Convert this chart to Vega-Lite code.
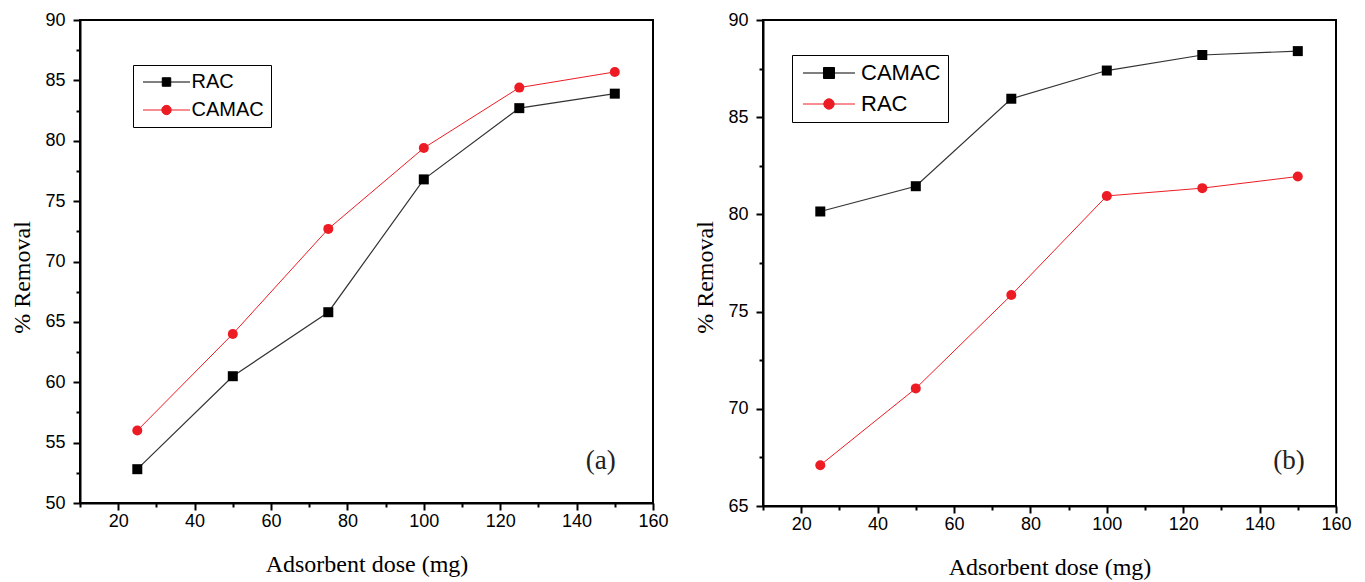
{
  "$schema": "https://vega.github.io/schema/vega-lite/v6.json",
  "background": "white",
  "padding": {"left": 9, "top": 10, "right": 5, "bottom": 5},
  "spacing": 22,
  "config": {
    "view": {"stroke": "black", "strokeWidth": 2},
    "axis": {
      "grid": false,
      "domainColor": "black",
      "domainWidth": 2,
      "tickColor": "black",
      "tickWidth": 2,
      "labelFont": "Liberation Sans",
      "labelFontSize": 18,
      "labelColor": "black",
      "labelOverlap": false,
      "labelFlush": false,
      "titleFont": "Liberation Serif",
      "titleFontSize": 24,
      "titleFontWeight": "normal",
      "titleColor": "black"
    },
    "legend": {
      "title": null,
      "orient": "none",
      "strokeColor": "black",
      "fillColor": "white",
      "labelFont": "Liberation Sans",
      "labelColor": "black",
      "symbolStrokeWidth": 1,
      "symbolOpacity": 1,
      "cornerRadius": 0
    }
  },
  "datasets": {
    "a": [
      {"dose": 25, "removal": 52.8, "sample": "RAC"},
      {"dose": 50, "removal": 60.5, "sample": "RAC"},
      {"dose": 75, "removal": 65.8, "sample": "RAC"},
      {"dose": 100, "removal": 76.8, "sample": "RAC"},
      {"dose": 125, "removal": 82.7, "sample": "RAC"},
      {"dose": 150, "removal": 83.9, "sample": "RAC"},
      {"dose": 25, "removal": 56.0, "sample": "CAMAC"},
      {"dose": 50, "removal": 64.0, "sample": "CAMAC"},
      {"dose": 75, "removal": 72.7, "sample": "CAMAC"},
      {"dose": 100, "removal": 79.4, "sample": "CAMAC"},
      {"dose": 125, "removal": 84.4, "sample": "CAMAC"},
      {"dose": 150, "removal": 85.7, "sample": "CAMAC"}
    ],
    "b": [
      {"dose": 25, "removal": 80.15, "sample": "CAMAC"},
      {"dose": 50, "removal": 81.45, "sample": "CAMAC"},
      {"dose": 75, "removal": 85.95, "sample": "CAMAC"},
      {"dose": 100, "removal": 87.4, "sample": "CAMAC"},
      {"dose": 125, "removal": 88.2, "sample": "CAMAC"},
      {"dose": 150, "removal": 88.4, "sample": "CAMAC"},
      {"dose": 25, "removal": 67.1, "sample": "RAC"},
      {"dose": 50, "removal": 71.05, "sample": "RAC"},
      {"dose": 75, "removal": 75.85, "sample": "RAC"},
      {"dose": 100, "removal": 80.95, "sample": "RAC"},
      {"dose": 125, "removal": 81.35, "sample": "RAC"},
      {"dose": 150, "removal": 81.95, "sample": "RAC"}
    ],
    "labA": [{"dose": 146.3, "removal": 53.5, "text": "(a)"}],
    "labB": [{"dose": 147.7, "removal": 67.3, "text": "(b)"}]
  },
  "hconcat": [
    {
      "width": 573,
      "height": 483,
      "data": {"name": "a"},
      "encoding": {
        "x": {
          "field": "dose", "type": "quantitative",
          "scale": {"domain": [10, 160], "nice": false, "zero": false},
          "axis": {
            "title": "Adsorbent dose (mg)",
            "values": [10, 20, 30, 40, 50, 60, 70, 80, 90, 100, 110, 120, 130, 140, 150, 160],
            "format": "d",
            "labelExpr": "datum.value % 20 === 0 ? datum.label : ''",
            "tickSize": {"condition": {"test": "datum.value % 20 === 0", "value": 7}, "value": 4},
            "labelPadding": 2,
            "titlePadding": 22
          }
        },
        "y": {
          "field": "removal", "type": "quantitative",
          "scale": {"domain": [50, 90], "nice": false, "zero": false},
          "axis": {
            "title": "% Removal",
            "values": [50, 52.5, 55, 57.5, 60, 62.5, 65, 67.5, 70, 72.5, 75, 77.5, 80, 82.5, 85, 87.5, 90],
            "format": "d",
            "labelExpr": "datum.value % 5 === 0 ? datum.label : ''",
            "tickSize": {"condition": {"test": "datum.value % 5 === 0", "value": 7}, "value": 4},
            "labelPadding": 8,
            "titlePadding": 10,
            "titleY": 257
          }
        }
      },
      "layer": [
        {
          "transform": [{"filter": "datum.sample === 'RAC'"}],
          "mark": {"type": "line", "color": "#333333", "strokeWidth": 1.2,
                   "point": {"shape": "square", "size": 100, "filled": true, "color": "black", "opacity": 1}}
        },
        {
          "transform": [{"filter": "datum.sample === 'CAMAC'"}],
          "mark": {"type": "line", "color": "#ed1c24", "strokeWidth": 1,
                   "point": {"shape": "circle", "size": 100, "filled": true, "color": "#ed1c24", "opacity": 1}}
        },
        {
          "data": {"name": "labA"},
          "mark": {"type": "text", "font": "Liberation Serif", "fontSize": 27, "color": "#222222", "align": "center", "baseline": "middle"},
          "encoding": {"text": {"field": "text"}}
        },
        {
          "mark": {"type": "point", "filled": true, "opacity": 0},
          "encoding": {
            "fill": {"field": "sample", "type": "nominal",
              "scale": {"domain": ["RAC", "CAMAC"], "range": ["black", "#ed1c24"]},
              "legend": {"legendX": 53, "legendY": 45, "padding": 7, "labelFontSize": 20, "symbolSize": 196, "symbolOffset": 16.5, "labelOffset": 15, "rowPadding": 8}},
            "stroke": {"field": "sample", "type": "nominal",
              "scale": {"domain": ["RAC", "CAMAC"], "range": ["black", "#ed1c24"]},
              "legend": {"legendX": 53, "legendY": 45, "padding": 7, "labelFontSize": 20, "symbolSize": 196, "symbolOffset": 16.5, "labelOffset": 15, "rowPadding": 8}},
            "shape": {"field": "sample", "type": "nominal",
              "scale": {"domain": ["RAC", "CAMAC"], "range": [
                "M-3.357,0H3.357M-0.607,-0.607H0.607V0.607H-0.607Z",
                "M-3.357,0H3.357M0.671,0A0.671,0.671,0,1,1,-0.671,0A0.671,0.671,0,1,1,0.671,0Z"]},
              "legend": {"legendX": 53, "legendY": 45, "padding": 7, "labelFontSize": 20, "symbolSize": 196, "symbolOffset": 16.5, "labelOffset": 15, "rowPadding": 8}}
          }
        }
      ]
    },
    {
      "width": 573,
      "height": 486,
      "data": {"name": "b"},
      "encoding": {
        "x": {
          "field": "dose", "type": "quantitative",
          "scale": {"domain": [10, 160], "nice": false, "zero": false},
          "axis": {
            "title": "Adsorbent dose (mg)",
            "values": [10, 20, 30, 40, 50, 60, 70, 80, 90, 100, 110, 120, 130, 140, 150, 160],
            "format": "d",
            "labelExpr": "datum.value % 20 === 0 ? datum.label : ''",
            "tickSize": {"condition": {"test": "datum.value % 20 === 0", "value": 7}, "value": 4},
            "labelPadding": 2,
            "titlePadding": 22
          }
        },
        "y": {
          "field": "removal", "type": "quantitative",
          "scale": {"domain": [65, 90], "nice": false, "zero": false},
          "axis": {
            "title": "% Removal",
            "values": [65, 67.5, 70, 72.5, 75, 77.5, 80, 82.5, 85, 87.5, 90],
            "format": "d",
            "labelExpr": "datum.value % 5 === 0 ? datum.label : ''",
            "tickSize": {"condition": {"test": "datum.value % 5 === 0", "value": 7}, "value": 4},
            "labelPadding": 8,
            "titlePadding": 10,
            "titleY": 257
          }
        }
      },
      "layer": [
        {
          "transform": [{"filter": "datum.sample === 'CAMAC'"}],
          "mark": {"type": "line", "color": "#333333", "strokeWidth": 1.2,
                   "point": {"shape": "square", "size": 100, "filled": true, "color": "black", "opacity": 1}}
        },
        {
          "transform": [{"filter": "datum.sample === 'RAC'"}],
          "mark": {"type": "line", "color": "#ed1c24", "strokeWidth": 1,
                   "point": {"shape": "circle", "size": 100, "filled": true, "color": "#ed1c24", "opacity": 1}}
        },
        {
          "data": {"name": "labB"},
          "mark": {"type": "text", "font": "Liberation Serif", "fontSize": 27, "color": "#222222", "align": "center", "baseline": "middle"},
          "encoding": {"text": {"field": "text"}}
        },
        {
          "mark": {"type": "point", "filled": true, "opacity": 0},
          "encoding": {
            "fill": {"field": "sample", "type": "nominal",
              "scale": {"domain": ["CAMAC", "RAC"], "range": ["black", "#ed1c24"]},
              "legend": {"legendX": 29, "legendY": 35, "padding": 7, "labelFontSize": 22, "symbolSize": 196, "symbolOffset": 19, "labelOffset": 21, "rowPadding": 9}},
            "stroke": {"field": "sample", "type": "nominal",
              "scale": {"domain": ["CAMAC", "RAC"], "range": ["black", "#ed1c24"]},
              "legend": {"legendX": 29, "legendY": 35, "padding": 7, "labelFontSize": 22, "symbolSize": 196, "symbolOffset": 19, "labelOffset": 21, "rowPadding": 9}},
            "shape": {"field": "sample", "type": "nominal",
              "scale": {"domain": ["CAMAC", "RAC"], "range": [
                "M-3.714,0H3.714M-0.786,-0.786H0.786V0.786H-0.786Z",
                "M-3.714,0H3.714M0.743,0A0.743,0.743,0,1,1,-0.743,0A0.743,0.743,0,1,1,0.743,0Z"]},
              "legend": {"legendX": 29, "legendY": 35, "padding": 7, "labelFontSize": 22, "symbolSize": 196, "symbolOffset": 19, "labelOffset": 21, "rowPadding": 9}}
          }
        }
      ]
    }
  ],
  "resolve": {
    "scale": {"fill": "independent", "stroke": "independent", "shape": "independent", "color": "independent"},
    "legend": {"fill": "independent", "stroke": "independent", "shape": "independent", "color": "independent"}
  }
}
